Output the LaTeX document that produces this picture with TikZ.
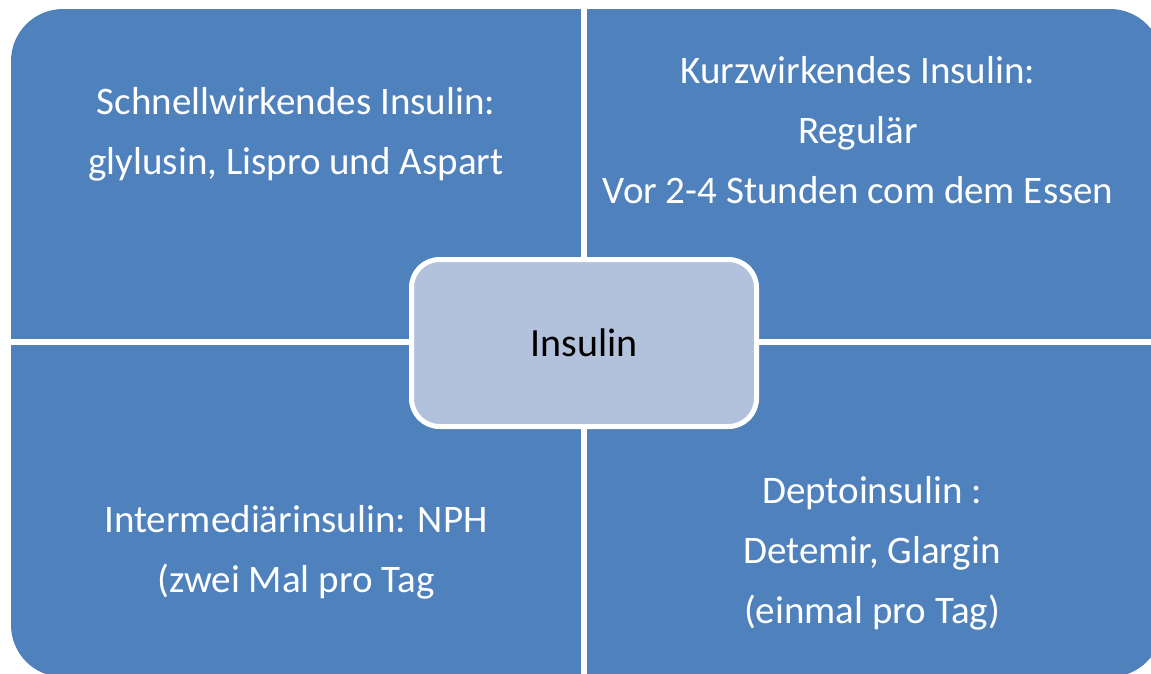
\documentclass[tikz,border=0pt]{standalone}
\usepackage{fontspec}
\setmainfont{Carlito}
\usetikzlibrary{positioning}
\definecolor{quadblue}{RGB}{79,129,189}
\definecolor{hubblue}{RGB}{178,193,220}

\begin{document}
\begin{tikzpicture}[x=1pt,y=-1pt,
                    quadtext/.style={text=white,align=center,anchor=base,
                                     font=\fontsize{39}{60}\selectfont},
                    hub/.style={draw=white,line width=5pt,fill=hubblue,
                                rounded corners=28pt,minimum width=345pt,
                                minimum height=167pt,font=\fontsize{40}{48}\selectfont}]

	\useasboundingbox (0,0) rectangle (1151,673);
	\clip (0,0) rectangle (1151,673);

	\fill[quadblue,rounded corners=52pt] (11,9) rectangle (1162,677);
	\fill[white] (581,0) rectangle (587,680);
	\fill[white] (0,339) rectangle (1170,345);

	\node[quadtext] (schnell)  at (296,174)	{Schnellwirkendes Insulin:\\glylusin, Lispro und Aspart};
	\node[quadtext] (kurz)     at (858,203)	{Kurzwirkendes Insulin:\\Regulär\\Vor 2-4 Stunden com dem Essen};
	\node[quadtext] (intermed) at (296,592)	{Intermediärinsulin: NPH\\(zwei Mal pro Tag};
	\node[quadtext] (depot)    at (872,623)	{Deptoinsulin :\\Detemir, Glargin\\(einmal pro Tag)};

	\node[hub] (insulin) at (584,343)		{Insulin};

\end{tikzpicture}
\end{document}
